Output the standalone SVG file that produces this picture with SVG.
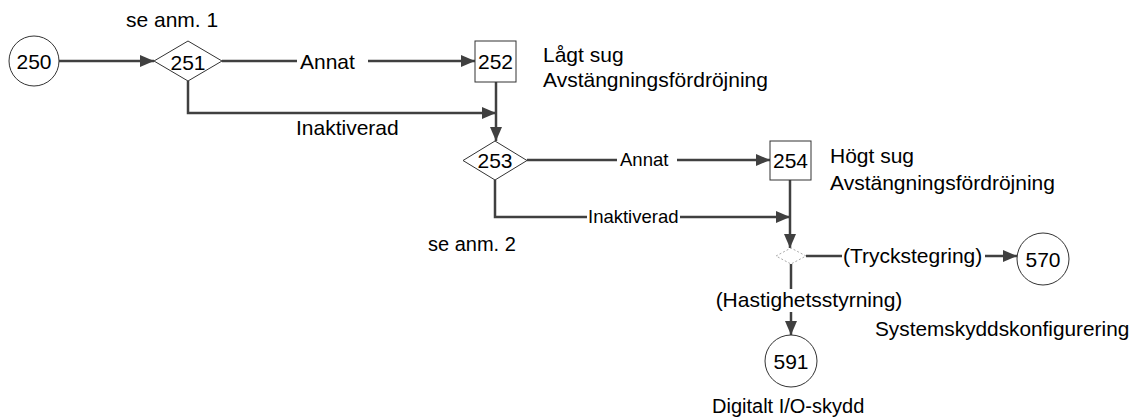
<svg xmlns="http://www.w3.org/2000/svg" width="1139" height="420" viewBox="0 0 1139 420">
<style>
text{font-family:"Liberation Sans",Arial,sans-serif;fill:#000}
.lbl{font-size:21px}
.sm{font-size:18.5px}
.md{font-size:20px}
.num{font-size:21px;text-anchor:middle}
.shape{fill:#fff;stroke:#333;stroke-width:1}
.conn{fill:none;stroke:#404040;stroke-width:2.5}
.bg{fill:#fff;stroke:none}
</style>
<defs>
<marker id="arr" markerUnits="userSpaceOnUse" markerWidth="16" markerHeight="14" refX="14" refY="6" orient="auto">
<path d="M0,0 L14,6 L0,12 z" fill="#404040"/>
</marker>
</defs>
<rect width="1139" height="420" fill="#fff"/>
<g id="connectors">
<path class="conn" d="M59,61 H154" marker-end="url(#arr)"/>
<path class="conn" d="M222,61 H475" marker-end="url(#arr)"/>
<rect class="bg" x="297" y="50" width="71" height="24"/>
<text class="lbl" x="300" y="69">Annat</text>
<path class="conn" d="M188,81 V113 H496" marker-end="url(#arr)"/>
<text class="lbl" x="296" y="135">Inaktiverad</text>
<path class="conn" d="M496,82 V141" marker-end="url(#arr)"/>
<path class="conn" d="M527,160 H770" marker-end="url(#arr)"/>
<rect class="bg" x="617" y="150" width="60" height="20"/>
<text class="sm" x="620" y="166">Annat</text>
<path class="conn" d="M495,180 V217 H790" marker-end="url(#arr)"/>
<rect class="bg" x="587" y="207" width="93" height="20"/>
<text class="sm" x="588" y="223">Inaktiverad</text>
<path class="conn" d="M790,180 V248" marker-end="url(#arr)"/>
<path class="conn" d="M806,256 H1017" marker-end="url(#arr)"/>
<rect class="bg" x="842" y="244" width="143" height="24"/>
<text class="lbl" x="843" y="263">(Tryckstegring)</text>
<path class="conn" d="M791,264 V335" marker-end="url(#arr)"/>
<rect class="bg" x="713" y="289" width="193" height="23"/>
<text class="lbl" x="809" y="307" text-anchor="middle">(Hastighetsstyrning)</text>
</g>
<g id="node-250">
<circle class="shape" cx="34" cy="61" r="25"/>
<text class="num" x="34" y="69">250</text>
</g>
<g id="node-251">
<polygon class="shape" points="154,61 188,41 222,61 188,81"/>
<text class="num" x="188" y="70">251</text>
<text class="lbl" x="126" y="27">se anm. 1</text>
</g>
<g id="node-252">
<rect class="shape" x="475" y="41" width="41" height="41"/>
<text class="num" x="495.5" y="69">252</text>
<text class="lbl" x="543" y="62">Lågt sug</text>
<text class="lbl" x="543" y="87">Avstängningsfördröjning</text>
</g>
<g id="node-253">
<polygon class="shape" points="463,160.5 495,141 527,160.5 495,180"/>
<text class="num" x="495" y="168">253</text>
<text class="md" x="428" y="251">se anm. 2</text>
</g>
<g id="node-254">
<rect class="shape" x="770" y="141" width="41" height="39"/>
<text class="num" x="790.5" y="168">254</text>
<text class="lbl" x="830" y="163">Högt sug</text>
<text class="lbl" x="830" y="190">Avstängningsfördröjning</text>
</g>
<g id="node-junction">
<polygon points="776,256 791,248 806,256 791,264" fill="#fff" stroke="#aaa" stroke-width="1" stroke-dasharray="2,2"/>
</g>
<g id="node-570">
<circle class="shape" cx="1043" cy="259" r="26"/>
<text class="num" x="1043" y="267">570</text>
<text class="md" x="875" y="336" style="font-size:20.8px">Systemskyddskonfigurering</text>
</g>
<g id="node-591">
<circle class="shape" cx="791" cy="361" r="26"/>
<text class="num" x="791" y="369">591</text>
<text class="md" x="712" y="413">Digitalt I/O-skydd</text>
</g>
</svg>
